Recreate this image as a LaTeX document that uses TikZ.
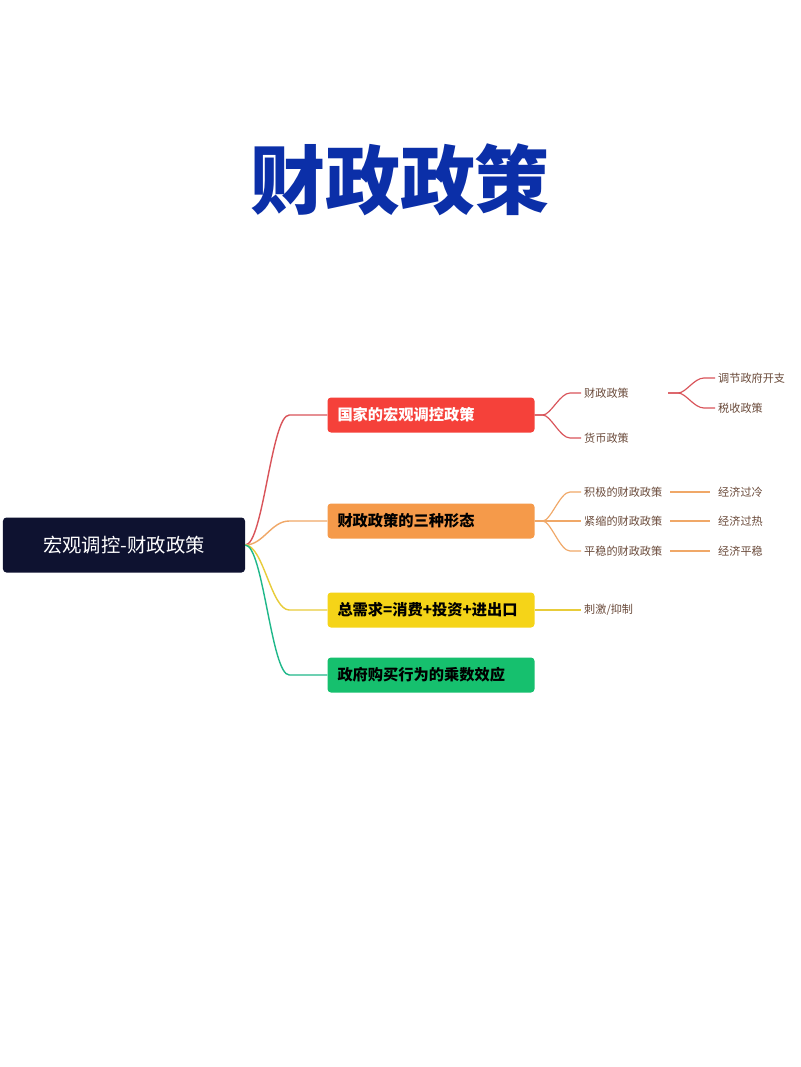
\documentclass[tikz,border=0pt]{standalone}
\usepackage{fontspec}
\setmainfont{Noto Sans CJK SC}
\usetikzlibrary{calc, positioning}
\definecolor{titleblue}{HTML}{0B2FA8}
\definecolor{rootblue}{HTML}{0E1230}
\definecolor{cred}{HTML}{F5413A}
\definecolor{corange}{HTML}{F59A4A}
\definecolor{cyellow}{HTML}{F5D418}
\definecolor{cgreen}{HTML}{16C06E}
\definecolor{lred}{HTML}{D9545A}
\definecolor{lorange}{HTML}{F0A868}
\definecolor{lyellow}{HTML}{E8CC3A}
\definecolor{lgreen}{HTML}{1FB88A}
\definecolor{leaftext}{HTML}{6A4A3A}
\tikzset{
  topic/.style={rounded corners=3pt, minimum width=207*0.3mm, minimum height=35*0.3mm, inner sep=0pt, font=\fontsize{13}{13}\selectfont\bfseries, text width=187*0.3mm},
  leaf/.style={anchor=west, inner sep=0pt, font=\fontsize{9.5}{10}\selectfont, text=leaftext},
  branch/.style={line width=1.2pt}
}
\begin{document}
\begin{tikzpicture}[x=0.03cm, y=-0.03cm]
  \useasboundingbox (0,0) rectangle (800,1067);
  \fill[white] (0,0) rectangle (800,1067);
  \node[text=titleblue, font=\fontsize{64}{64}\selectfont\bfseries] (title) at (400,180) {财政政策};

  \node[fill=rootblue, text=white, rounded corners=3pt, minimum width=242*0.3mm, minimum height=55*0.3mm, font=\fontsize{16.5}{17}\selectfont] (root) at (124,545) {宏观调控-财政政策};

  \node[topic, fill=cred, text=white] (t1) at (431,415) {国家的宏观调控政策};
  \node[topic, fill=corange, text=black] (t2) at (431,521) {财政政策的三种形态};
  \node[topic, fill=cyellow, text=black] (t3) at (431,610) {总需求=消费+投资+进出口};
  \node[topic, fill=cgreen, text=black] (t4) at (431,675) {政府购买行为的乘数效应};

  % main branches
  \foreach \t/\c in {t1/lred, t2/lorange, t3/lyellow, t4/lgreen}
    \draw[branch, \c] (root.east) .. controls +(18,0) and +(-18,0) .. ($(\t.west)+(-38,0)$) -- (\t.west);

  % leaves
  \node[leaf] (a1) at (584,393) {财政政策};
  \node[leaf] (a2) at (584,438) {货币政策};
  \node[leaf] (a11) at (718,378) {调节政府开支};
  \node[leaf] (a12) at (718,408) {税收政策};
  \coordinate (a1r) at (668,393);
  \node[leaf] (b1) at (584,492) {积极的财政政策};
  \node[leaf] (b2) at (584,521) {紧缩的财政政策};
  \node[leaf] (b3) at (584,551) {平稳的财政政策};
  \node[leaf] (b11) at (718,492) {经济过冷};
  \node[leaf] (b21) at (718,521) {经济过热};
  \node[leaf] (b31) at (718,551) {经济平稳};
  \node[leaf] (c1) at (584,610) {刺激/抑制};

  \foreach \a in {a1, a2}
    \draw[branch, lred, line width=1pt] (t1.east) -- ++(8,0) .. controls +(8,0) and +(-10,0) .. ($(\a.west)+(-14,0)$) -- ($(\a.west)+(-3,0)$);
  \foreach \a in {a11, a12}
    \draw[branch, lred, line width=1pt] (a1r) -- ++(10,0) .. controls +(8,0) and +(-10,0) .. ($(\a.west)+(-14,0)$) -- ($(\a.west)+(-3,0)$);
  \foreach \b in {b1, b2, b3}
    \draw[branch, lorange, line width=1pt] (t2.east) -- ++(8,0) .. controls +(8,0) and +(-10,0) .. ($(\b.west)+(-14,0)$) -- ($(\b.west)+(-3,0)$);
  \foreach \b/\e in {b1/b11, b2/b21, b3/b31}
    \draw[branch, lorange, line width=1pt] ($(\b.east)+(8,0)$) -- ($(\e.west)+(-8,0)$);
  \draw[branch, lyellow, line width=1pt] (t3.east) -- ($(c1.west)+(-3,0)$);
\end{tikzpicture}
\end{document}
